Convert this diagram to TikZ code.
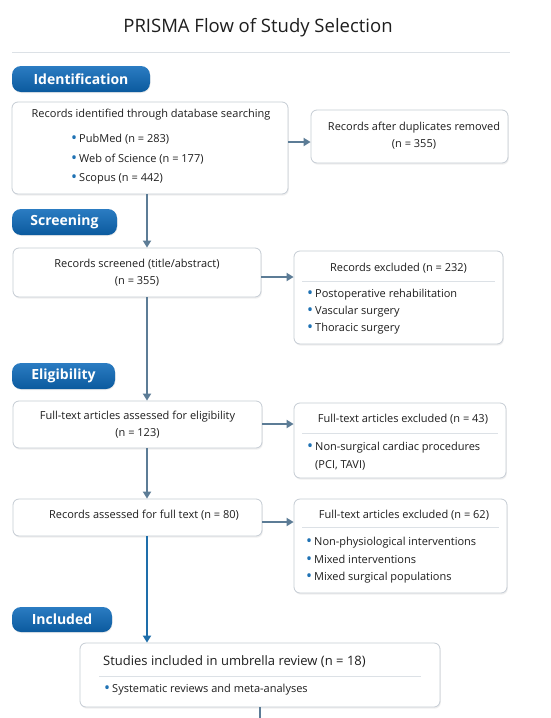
\documentclass[tikz,border=0pt]{standalone}
\usepackage{fontspec}
\setmainfont{Open Sans}
\usetikzlibrary{arrows.meta,shadows}
\definecolor{txt}{HTML}{1E1E1E}
\definecolor{pillA}{HTML}{2B7CC2}
\definecolor{pillB}{HTML}{0B5A9E}
\definecolor{edge}{HTML}{C5CCD4}
\definecolor{sep}{HTML}{DCE1E6}
\definecolor{arrc}{HTML}{5C7C96}
\definecolor{arrblue}{HTML}{1E6EAA}
\definecolor{bul}{HTML}{1F72B4}
\newcommand{\bu}{\textcolor{bul}{\rule[2.6pt]{0pt}{0pt}\raisebox{-0.9pt}{\fontsize{16}{16}\selectfont •}}\hspace{2pt}}
\tikzset{
  box/.style={draw=edge, line width=0.8pt, rounded corners=6pt, fill=white,
    drop shadow={opacity=0.12, shadow xshift=0.8pt, shadow yshift=-1.6pt}, inner sep=0pt},
  pill/.style={rounded corners=9pt, top color=pillA, bottom color=pillB, inner sep=0pt,
    text=white, font=\fontsize{14}{16}\selectfont\bfseries,
    drop shadow={opacity=0.15, shadow xshift=0.5pt, shadow yshift=-1pt}},
  tx/.style={text=txt, font=\fontsize{11}{17}\selectfont, inner sep=0pt},
  txc/.style={tx, align=center},
  sepl/.style={draw=sep, line width=0.8pt},
  arr/.style={draw=arrc, line width=1.8pt, -{Triangle[length=7pt,width=8pt]}},
  arrb/.style={draw=arrblue, line width=1.8pt, -{Triangle[length=7pt,width=8pt]}},
}
\begin{document}
\begin{tikzpicture}[x=1pt,y=-1pt]
\useasboundingbox (0,0) rectangle (550,718);
\fill[white] (0,0) rectangle (550,718);
% title
\node[text=txt, font=\fontsize{18.5}{20}\selectfont, inner sep=0pt] (title) at (258,28) {PRISMA Flow of Study Selection};
\draw[sep, line width=0.8pt] (12,52) -- (510,52);
% pills
\node[pill, minimum width=138pt, minimum height=26pt] (p1) at (81,79) {Identification};
\node[pill, minimum width=105pt, minimum height=26pt] (p2) at (64.5,222) {Screening};
\node[pill, minimum width=103pt, minimum height=26pt] (p3) at (63.5,376) {Eligibility};
\node[pill, minimum width=100pt, minimum height=25pt] (p4) at (62,619.5) {Included};
% boxes
\node[box, minimum width=276pt, minimum height=92pt] (b1) at (150,148) {};
\node[box, minimum width=197pt, minimum height=53pt] (b2) at (409.5,136.5) {};
\node[box, minimum width=248pt, minimum height=49pt] (b3) at (137,272.5) {};
\node[box, minimum width=209pt, minimum height=93pt] (b4) at (398.5,297.5) {};
\node[box, minimum width=249pt, minimum height=47pt] (b5) at (137.5,424.5) {};
\node[box, minimum width=212pt, minimum height=75pt] (b6) at (400,440.5) {};
\node[box, minimum width=249pt, minimum height=37pt] (b7) at (137.5,517.5) {};
\node[box, minimum width=213pt, minimum height=94pt] (b8) at (400.5,546) {};
\node[box, minimum width=360pt, minimum height=64pt] (b9) at (260,675) {};
% box texts
\node[tx] (t1) at (151,115) {Records identified through database searching};
\node[tx, anchor=west] (t1a) at (71,139) {\bu PubMed (n = 283)};
\node[tx, anchor=west] (t1b) at (71,159) {\bu Web of Science (n = 177)};
\node[tx, anchor=west] (t1c) at (71,179) {\bu Scopus (n = 442)};
\node[txc] (t2) at (414,136) {Records after duplicates removed\\(n = 355)};
\node[txc] (t3) at (137,273) {Records screened (title/abstract)\\(n = 355)};
\node[tx] (t4) at (398.5,268) {Records excluded (n = 232)};
\draw[sepl] (302,281) -- (495,281);
\node[tx, anchor=west] (t4a) at (307,295) {\bu Postoperative rehabilitation};
\node[tx, anchor=west] (t4b) at (307,312) {\bu Vascular surgery};
\node[tx, anchor=west] (t4c) at (307,329) {\bu Thoracic surgery};
\node[txc] (t5) at (137.5,425) {Full-text articles assessed for eligibility\\(n = 123)};
\node[tx] (t6) at (403,419) {Full-text articles excluded (n = 43)};
\draw[sepl] (302,433) -- (498,433);
\node[tx, anchor=west] (t6a) at (307,448) {\bu Non-surgical cardiac procedures};
\node[tx, anchor=west] (t6b) at (315,465) {(PCI, TAVI)};
\node[tx] (t7) at (144,515) {Records assessed for full text (n = 80)};
\node[tx] (t8) at (404,515) {Full-text articles excluded (n = 62)};
\draw[sepl] (302,527) -- (499,527);
\node[tx, anchor=west] (t8a) at (306,543) {\bu Non-physiological interventions};
\node[tx, anchor=west] (t8b) at (306,560) {\bu Mixed interventions};
\node[tx, anchor=west] (t8c) at (306,578) {\bu Mixed surgical populations};
\node[tx, anchor=west, font=\fontsize{13}{16}\selectfont] (t9) at (103,662) {Studies included in umbrella review (n = 18)};
\draw[sepl] (99,676) -- (421,676);
\node[tx, anchor=west, font=\fontsize{11}{14}\selectfont] (t9a) at (104,690) {\bu Systematic reviews and meta-analyses};
% connectors
\coordinate (spine) at (147,0);
\coordinate (y1) at (0,142);
\coordinate (y2) at (0,277);
\coordinate (y3) at (0,424);
\coordinate (y4) at (0,522);
\coordinate (tail) at (260,722);
\draw[arr] (b1.south -| spine) -- (b3.north -| spine);
\draw[arr] (b3.south -| spine) -- (b5.north -| spine);
\draw[arr] (b5.south -| spine) -- (b7.north -| spine);
\draw[arrb] (b7.south -| spine) -- (b9.north -| spine);
\draw[arr] (b1.east |- y1) -- (b2.west |- y1);
\draw[arr] (b3.east |- y2) -- (b4.west |- y2);
\draw[arr] (b5.east |- y3) -- (b6.west |- y3);
\draw[arr] (b7.east |- y4) -- (b8.west |- y4);
\draw[draw=arrc, line width=1.8pt] (b9.south) -- (tail);
\end{tikzpicture}
\end{document}
